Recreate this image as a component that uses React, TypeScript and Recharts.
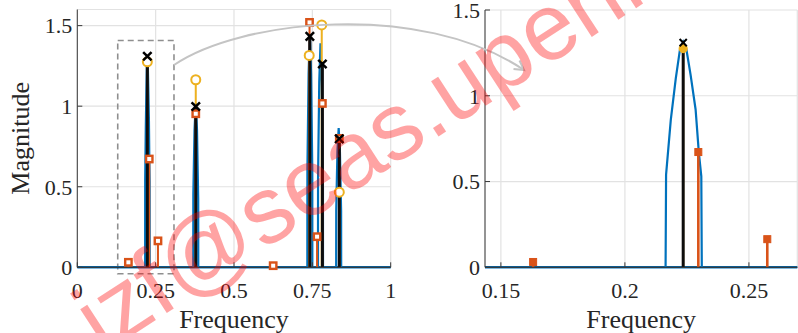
import React from 'react';
import {
  ComposedChart,
  Line,
  Scatter,
  XAxis,
  YAxis,
  CartesianGrid,
  ReferenceLine,
  ReferenceArea,
} from 'recharts';

const BLUE = '#0072BD';
const ORANGE = '#D95319';
const YELLOW = '#EDB120';
const SERIF = '"Liberation Serif", "Times New Roman", serif';

// Spectrum (blue line): one array pair per peak
const peak1Freq = [0.2164, 0.2166, 0.2185, 0.2205, 0.2222, 0.2235, 0.2248, 0.2265, 0.2285, 0.2298, 0.2308, 0.231];
const peak1Mag = [0, 0.54, 0.86, 1.1, 1.27, 1.315, 1.27, 1.12, 0.92, 0.67, 0.53, 0];
const peak2Freq = [0.37, 0.3702, 0.374, 0.378, 0.382, 0.3858, 0.386];
const peak2Mag = [0, 0.45, 0.85, 1.02, 0.85, 0.42, 0];
const peak3Freq = [0.734, 0.7342, 0.738, 0.742, 0.746, 0.7498, 0.75];
const peak3Mag = [0, 0.6, 1.2, 1.45, 1.2, 0.6, 0];
const peak4Freq = [0.768, 0.7682, 0.772, 0.776, 0.78, 0.7838, 0.784];
const peak4Mag = [0, 0.55, 1.15, 1.39, 1.12, 0.5, 0];
const peak5Freq = [0.826, 0.8262, 0.83, 0.834, 0.838, 0.8418, 0.842];
const peak5Mag = [0, 0.35, 0.72, 0.864, 0.72, 0.35, 0];
const spectrumFreq = [peak1Freq, peak2Freq, peak3Freq, peak4Freq, peak5Freq];
const spectrumMag = [peak1Mag, peak2Mag, peak3Mag, peak4Mag, peak5Mag];

// Stem series
const blackFreq = [0.2235, 0.378, 0.742, 0.782, 0.836];
const blackMag = [1.31, 0.998, 1.433, 1.262, 0.797];
const yellowFreq = [0.2235, 0.378, 0.74, 0.78, 0.836];
const yellowMag = [1.275, 1.164, 1.315, 1.504, 0.466];
const orangeFreq = [0.163, 0.2296, 0.2574, 0.378, 0.625, 0.741, 0.765, 0.782, 0.836];
const orangeMag = [0.031, 0.672, 0.164, 0.953, 0.01, 1.52, 0.19, 1.017, 0.8];

// Axes
const leftXTicks = [0, 0.25, 0.5, 0.75, 1];
const leftYTicks = [0, 0.5, 1, 1.5];
const rightXTicks = [0.15, 0.2, 0.25];
const rightYTicks = [0, 0.5, 1, 1.5];
const leftXDomain = [0, 1];
const leftYDomain = [0, 1.6];
const rightXDomain = [0.1436, 0.2695];
const rightYDomain = [0, 1.5];
const zoomBoxX = [0.129, 0.3085];
const zoomBoxY = [-0.04, 1.408];

const inRange = (x: number, d: number[]) => x >= d[0] && x <= d[1];

function stemData(freq: number[], mag: number[], dom: number[]) {
  const out: any[] = [];
  freq.forEach((f, i) => {
    if (!inRange(f, dom)) return;
    out.push({ x: f, y: 0 }, { x: f, y: mag[i] }, { x: f, y: null });
  });
  return out;
}
function pointData(freq: number[], mag: number[], dom: number[]) {
  return freq.map((f, i) => ({ x: f, y: mag[i] })).filter((p) => inRange(p.x, dom));
}
function spectrumData(dom: number[]) {
  const out: any[] = [];
  spectrumFreq.forEach((fs, k) => {
    if (!fs.every((f) => inRange(f, dom))) return;
    fs.forEach((f, i) => out.push({ x: f, y: spectrumMag[k][i] }));
    out.push({ x: fs[fs.length - 1], y: null });
  });
  return out;
}

const EmptyTick = () => <g />;

function Panel(props: any) {
  const { width, height, margin, xDomain, yDomain, xTicks, yTicks, detail, showBox } = props;
  const tickStyle = { fontFamily: SERIF, fontSize: 22, fill: '#262626' };
  const axisStroke = '#3a3a3a';
  const ms = detail ? 3.6 : 4.2;
  const cross = (p: any) => {
    const { cx, cy } = p;
    const s = ms;
    return (
      <path
        d={`M${cx - s},${cy - s}L${cx + s},${cy + s}M${cx - s},${cy + s}L${cx + s},${cy - s}`}
        stroke="#000"
        strokeWidth={detail ? 2 : 2.5}
        fill="none"
      />
    );
  };
  const circ = (p: any) => (
    <circle cx={p.cx} cy={p.cy} r={detail ? 3.6 : 4.5} fill={detail ? YELLOW : '#fff'} stroke={YELLOW} strokeWidth={2} />
  );
  const sq = (p: any) => {
    const s = detail ? 3.5 : 3.2;
    return (
      <rect x={p.cx - s} y={p.cy - s} width={2 * s} height={2 * s} fill={detail ? ORANGE : '#fff'} stroke={ORANGE} strokeWidth={detail ? 1 : 2.4} />
    );
  };
  return (
    <ComposedChart width={width} height={height} margin={margin}>
      <CartesianGrid xAxisId="x" yAxisId="y" stroke="#e2e2e2" strokeWidth={1.2} />
      <XAxis
        xAxisId="x"
        dataKey="x"
        type="number"
        domain={xDomain}
        ticks={xTicks}
        interval={0}
        height={62}
        tickSize={-5}
        tickMargin={20}
        stroke={axisStroke}
        tick={tickStyle}
        label={{
          content: (lp: any) => {
            const vb = lp.viewBox || {};
            return (
              <text x={vb.x + vb.width / 2} y={vb.y + 61} textAnchor="middle" fontFamily={SERIF} fontSize={26} fill="#262626">
                Frequency
              </text>
            );
          },
        }}
      />
      <XAxis
        xAxisId="top"
        orientation="top"
        type="number"
        domain={xDomain}
        ticks={xTicks}
        interval={0}
        height={0}
        tickSize={-5}
        stroke={axisStroke}
        tick={EmptyTick}
        allowDataOverflow
      />
      <YAxis
        yAxisId="y"
        dataKey="y"
        type="number"
        domain={yDomain}
        ticks={yTicks}
        interval={0}
        width={60}
        tickSize={-5}
        tickMargin={10}
        stroke={axisStroke}
        tick={tickStyle}
        label={
          showBox
            ? {
                content: (lp: any) => {
                  const vb = lp.viewBox || {};
                  const cx = vb.x + vb.width - 57;
                  const cy = vb.y + vb.height / 2;
                  return (
                    <text
                      x={cx}
                      y={cy}
                      transform={`rotate(-90 ${cx} ${cy})`}
                      textAnchor="middle"
                      dominantBaseline="central"
                      fontFamily={SERIF}
                      fontSize={26}
                      fill="#262626"
                    >
                      Magnitude
                    </text>
                  );
                },
              }
            : undefined
        }
      />
      <YAxis
        yAxisId="right"
        orientation="right"
        type="number"
        domain={yDomain}
        ticks={yTicks}
        interval={0}
        width={0}
        tickSize={-5}
        stroke={axisStroke}
        tick={EmptyTick}
        allowDataOverflow
      />
      <ReferenceLine xAxisId="x" yAxisId="y" y={0} stroke={BLUE} strokeWidth={2.6} />
      <ReferenceLine xAxisId="x" yAxisId="y" y={0} stroke="#1a1a1a" strokeWidth={1.2} strokeOpacity={0.6} />
      <Line
        xAxisId="x"
        yAxisId="y"
        data={spectrumData(xDomain)}
        dataKey="y"
        stroke={BLUE}
        strokeWidth={2.2}
        dot={false}
        activeDot={false}
        isAnimationActive={false}
      />
      <Line
        xAxisId="x"
        yAxisId="y"
        data={stemData(yellowFreq, yellowMag, xDomain)}
        dataKey="y"
        stroke={YELLOW}
        strokeWidth={2}
        dot={false}
        activeDot={false}
        isAnimationActive={false}
      />
      <Scatter xAxisId="x" yAxisId="y" data={pointData(yellowFreq, yellowMag, xDomain)} dataKey="y" shape={circ} isAnimationActive={false} />
      <Line
        xAxisId="x"
        yAxisId="y"
        data={stemData(orangeFreq, orangeMag, xDomain)}
        dataKey="y"
        stroke={ORANGE}
        strokeWidth={detail ? 2.6 : 2}
        dot={false}
        activeDot={false}
        isAnimationActive={false}
      />
      <Scatter xAxisId="x" yAxisId="y" data={pointData(orangeFreq, orangeMag, xDomain)} dataKey="y" shape={sq} isAnimationActive={false} />
      <Line
        xAxisId="x"
        yAxisId="y"
        data={stemData(blackFreq, blackMag, xDomain)}
        dataKey="y"
        stroke="#0d0d0d"
        strokeWidth={3}
        dot={false}
        activeDot={false}
        isAnimationActive={false}
      />
      <Scatter xAxisId="x" yAxisId="y" data={pointData(blackFreq, blackMag, xDomain)} dataKey="y" shape={cross} isAnimationActive={false} />
      {showBox ? (
        <ReferenceArea
          xAxisId="x"
          yAxisId="y"
          x1={zoomBoxX[0]}
          x2={zoomBoxX[1]}
          y1={zoomBoxY[0]}
          y2={zoomBoxY[1]}
          ifOverflow="visible"
          fill="none"
          fillOpacity={0}
          stroke="#8f8f8f"
          strokeWidth={1.6}
          strokeDasharray="6 4"
        />
      ) : null}
    </ComposedChart>
  );
}

export default function App() {
  return (
    <div style={{ position: 'absolute', left: 0, top: 0, width: 798, height: 333, overflow: 'hidden', background: '#fff' }}>
      <div style={{ position: 'absolute', left: 0, top: 0 }}>
        <Panel
          width={400}
          height={333}
          margin={{ top: 9.5, right: 9.3, bottom: 3.7, left: 17.3 }}
          xDomain={leftXDomain}
          yDomain={leftYDomain}
          xTicks={leftXTicks}
          yTicks={leftYTicks}
          detail={false}
          showBox={true}
        />
      </div>
      <div style={{ position: 'absolute', left: 400, top: 0 }}>
        <Panel
          width={398}
          height={333}
          margin={{ top: 10, right: 0.7, bottom: 3.7, left: 25 }}
          xDomain={rightXDomain}
          yDomain={rightYDomain}
          xTicks={rightXTicks}
          yTicks={rightYTicks}
          detail={true}
          showBox={false}
        />
      </div>
      <svg
        width={798}
        height={333}
        style={{ position: 'absolute', left: 0, top: 0, pointerEvents: 'none' }}
      >
        <path d="M174,65 C240,20 420,0 524,70" fill="none" stroke="#c4c4c4" strokeWidth={2} />
        <path d="M513.5,69 L524,70 L519.5,60.5" fill="none" stroke="#c4c4c4" strokeWidth={2} strokeLinejoin="miter" />
        <g transform="rotate(-33 182 303)" fontFamily='"Liberation Sans", Arial, sans-serif' fontSize={95} fill="#ff0000" fillOpacity={0.36}>
          <text x={182} y={303} textAnchor="end">izf</text>
          <text x={182} y={303} textAnchor="start">@seas.upenn.edu</text>
        </g>
      </svg>
    </div>
  );
}
